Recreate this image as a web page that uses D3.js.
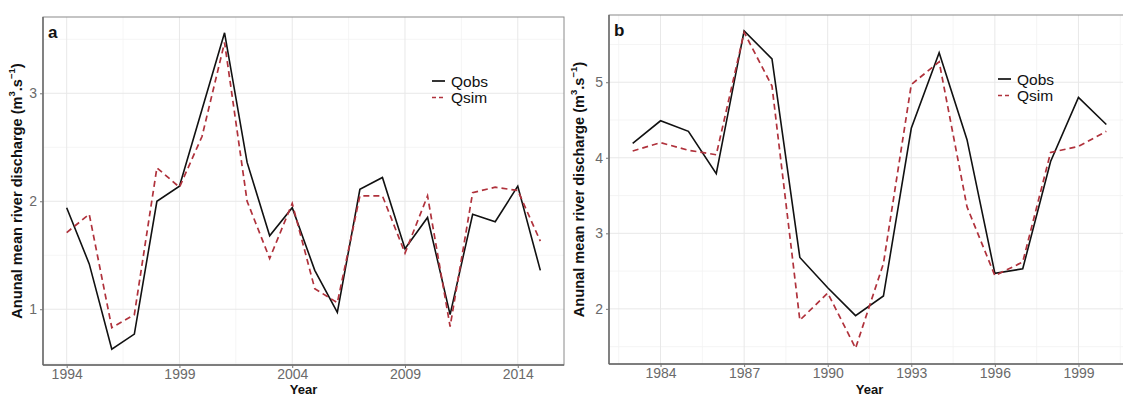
<!DOCTYPE html>
<html>
<head>
<meta charset="utf-8">
<script src="https://cdn.jsdelivr.net/npm/d3@7"></script>
<style>
  html, body { margin: 0; padding: 0; background: #fff; }
  svg { display: block; font-family: "Liberation Sans", Arial, sans-serif; }
</style>
</head>
<body>
<svg id="chart" width="1123" height="397"></svg>
<script>
// Panel a: annual series 1994-2015
const yearsA = d3.range(1994, 2016);
const qobsA = [1.94, 1.42, 0.63, 0.77, 2.00, 2.14, 2.85, 3.56, 2.36, 1.68, 1.94,
               1.36, 0.97, 2.11, 2.22, 1.56, 1.85, 0.95, 1.88, 1.81, 2.14, 1.36];
const qsimA = [1.71, 1.88, 0.83, 0.95, 2.31, 2.13, 2.60, 3.47, 2.00, 1.47, 1.98,
               1.19, 1.06, 2.05, 2.05, 1.52, 2.05, 0.84, 2.08, 2.13, 2.10, 1.63];
const xTicksA = [1994, 1999, 2004, 2009, 2014];
const yTicksA = [1, 2, 3];

// Panel b: annual series 1983-2000
const yearsB = d3.range(1983, 2001);
const qobsB = [4.19, 4.49, 4.35, 3.79, 5.68, 5.31, 2.68, 2.28, 1.91, 2.17, 4.39,
               5.39, 4.24, 2.47, 2.53, 3.95, 4.80, 4.44];
const qsimB = [4.09, 4.20, 4.10, 4.04, 5.66, 4.95, 1.85, 2.21, 1.48, 2.60, 4.97,
               5.27, 3.35, 2.44, 2.62, 4.07, 4.15, 4.35];
const xTicksB = [1984, 1987, 1990, 1993, 1996, 1999];
const yTicksB = [2, 3, 4, 5];

const seriesNames = ["Qobs", "Qsim"];
const simColor = "#b0323c";

const svg = d3.select("#chart");

function expand(ext) {
  const pad = (ext[1] - ext[0]) * 0.05;
  return [ext[0] - pad, ext[1] + pad];
}

function panel(cfg) {
  const { years, obs, sim, xTicks, yTicks, left, right, top, bottom, letter,
          titleX, legendX, legendY } = cfg;
  const x = d3.scaleLinear().domain(expand(d3.extent(years))).range([left, right]);
  const y = d3.scaleLinear().domain(expand(d3.extent(obs.concat(sim)))).range([bottom, top]);

  const g = svg.append("g");
  g.append("defs").append("clipPath").attr("id", "clip-" + letter)
    .append("rect").attr("x", left).attr("y", top)
    .attr("width", right - left).attr("height", bottom - top);

  // grid: minor lines halfway between major breaks, then major lines
  const xStep = xTicks[1] - xTicks[0];
  const yStep = yTicks[1] - yTicks[0];
  const xMinor = d3.range(xTicks[0] - xStep / 2, x.domain()[1], xStep).filter(v => v > x.domain()[0]);
  const yMinor = d3.range(yTicks[0] - yStep / 2, y.domain()[1], yStep).filter(v => v > y.domain()[0]);
  const grid = g.append("g").attr("clip-path", `url(#clip-${letter})`);
  grid.selectAll(".xmin").data(xMinor).join("line")
    .attr("x1", d => x(d)).attr("x2", d => x(d)).attr("y1", top).attr("y2", bottom)
    .attr("stroke", "#f2f2f2").attr("stroke-width", 0.8);
  grid.selectAll(".ymin").data(yMinor).join("line")
    .attr("y1", d => y(d)).attr("y2", d => y(d)).attr("x1", left).attr("x2", right)
    .attr("stroke", "#f2f2f2").attr("stroke-width", 0.8);
  grid.selectAll(".xmaj").data(xTicks).join("line")
    .attr("x1", d => x(d)).attr("x2", d => x(d)).attr("y1", top).attr("y2", bottom)
    .attr("stroke", "#e8e8e8").attr("stroke-width", 1);
  grid.selectAll(".ymaj").data(yTicks).join("line")
    .attr("y1", d => y(d)).attr("y2", d => y(d)).attr("x1", left).attr("x2", right)
    .attr("stroke", "#e8e8e8").attr("stroke-width", 1);

  // series lines
  const line = d3.line().x((d, i) => x(years[i])).y(d => y(d));
  const lines = g.append("g").attr("clip-path", `url(#clip-${letter})`);
  lines.append("path").attr("d", line(obs)).attr("fill", "none")
    .attr("stroke", "#111").attr("stroke-width", 1.6).attr("stroke-linejoin", "miter");
  lines.append("path").attr("d", line(sim)).attr("fill", "none")
    .attr("stroke", simColor).attr("stroke-width", 1.7).attr("stroke-dasharray", "6,4");

  // panel border
  g.append("rect").attr("x", left).attr("y", top)
    .attr("width", right - left).attr("height", bottom - top)
    .attr("fill", "none").attr("stroke", "#8a8a8a").attr("stroke-width", 1);
  g.append("line").attr("x1", left).attr("x2", right).attr("y1", bottom).attr("y2", bottom)
    .attr("stroke", "#666").attr("stroke-width", 1.4);
  g.append("line").attr("x1", left).attr("x2", left).attr("y1", top).attr("y2", bottom)
    .attr("stroke", "#666").attr("stroke-width", 1.4);

  // axes
  const xAxis = g.append("g").attr("transform", `translate(0,${bottom})`)
    .call(d3.axisBottom(x).tickValues(xTicks).tickFormat(d3.format("d")).tickSize(3).tickPadding(1));
  const yAxis = g.append("g").attr("transform", `translate(${left},0)`)
    .call(d3.axisLeft(y).tickValues(yTicks).tickFormat(d3.format("d")).tickSize(3).tickPadding(3));
  [xAxis, yAxis].forEach(a => {
    a.select(".domain").remove();
    a.selectAll(".tick line").attr("stroke", "#777");
    a.selectAll(".tick text").attr("fill", "#6a6a6a")
      .style("font-size", "14px").style("font-family", "'Liberation Sans', Arial, sans-serif");
  });

  // panel letter
  g.append("text").attr("x", left + 5).attr("y", top + 21).text(letter)
    .attr("font-weight", "bold").attr("font-size", 17).attr("fill", "#111");

  // axis titles
  g.append("text").attr("x", (left + right) / 2).attr("y", 394.2)
    .attr("text-anchor", "middle").attr("font-weight", "bold").attr("font-size", 13)
    .attr("fill", "#111").text("Year");
  const yt = g.append("text")
    .attr("transform", `translate(${titleX},${(top + bottom) / 2}) rotate(-90)`)
    .attr("text-anchor", "middle").attr("font-weight", "bold").attr("font-size", 14.6)
    .attr("fill", "#111");
  yt.append("tspan").text("Anunal mean river discharge (m");
  yt.append("tspan").text("3").attr("font-size", 9.5).attr("dy", -7);
  yt.append("tspan").text(".s").attr("dy", 7);
  yt.append("tspan").text("−1").attr("font-size", 9.5).attr("dy", -7);
  yt.append("tspan").text(")").attr("dy", 7);

  // legend
  const lg = g.append("g").attr("transform", `translate(${legendX},${legendY})`);
  seriesNames.forEach((name, i) => {
    const yy = i * 16.5;
    lg.append("line").attr("x1", 0).attr("x2", 13).attr("y1", yy).attr("y2", yy)
      .attr("stroke", i === 0 ? "#111" : simColor).attr("stroke-width", 1.7)
      .attr("stroke-dasharray", i === 0 ? null : "4,3");
    lg.append("text").attr("x", 19).attr("y", yy + 5.5).text(name)
      .attr("font-size", 15.5).attr("fill", "#111");
  });
}

panel({ years: yearsA, obs: qobsA, sim: qsimA, xTicks: xTicksA, yTicks: yTicksA,
        left: 43, right: 564, top: 17, bottom: 365, letter: "a",
        titleX: 22, legendX: 432, legendY: 81 });
panel({ years: yearsB, obs: qobsB, sim: qsimB, xTicks: xTicksB, yTicks: yTicksB,
        left: 609, right: 1130, top: 15, bottom: 364, letter: "b",
        titleX: 584, legendX: 998, legendY: 79 });
</script>
</body>
</html>
